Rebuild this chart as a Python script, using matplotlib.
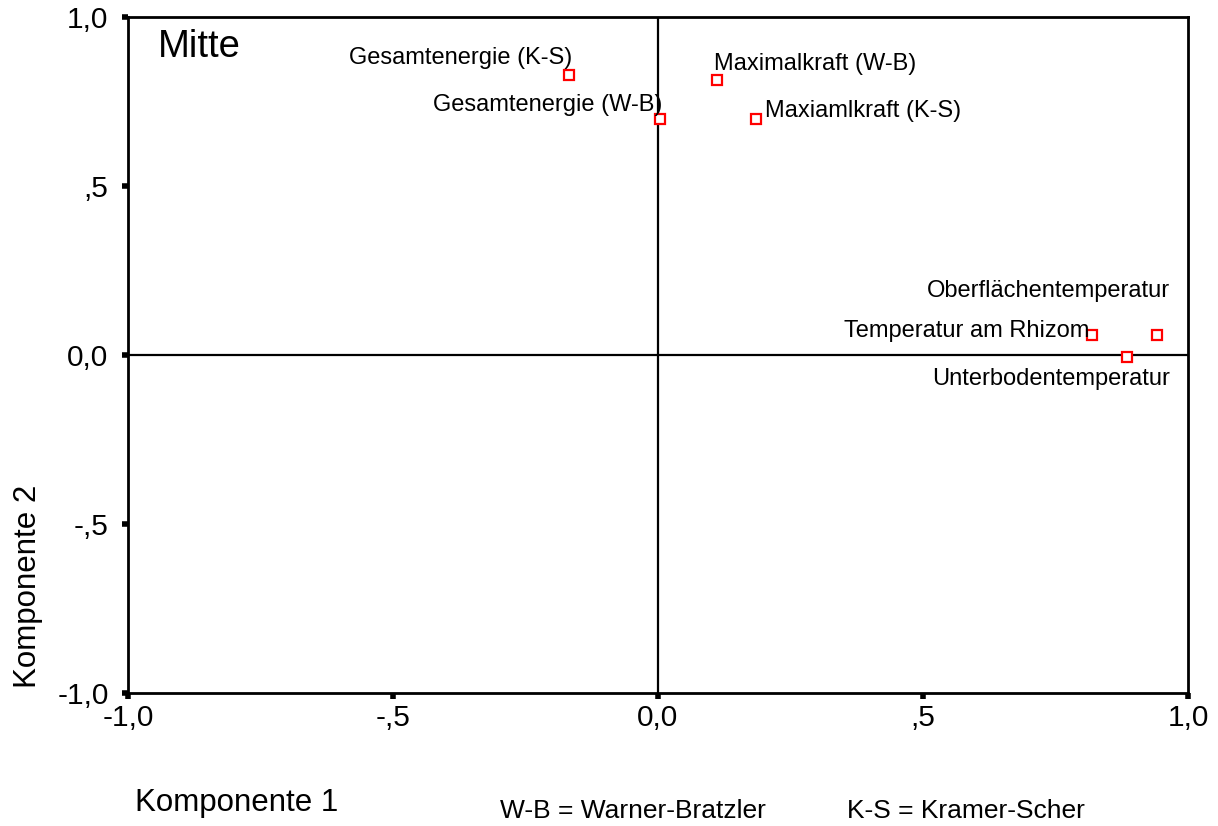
import matplotlib
matplotlib.use("Agg")
import matplotlib.pyplot as plt

plt.rcParams['font.family'] = ['Liberation Sans', 'DejaVu Sans']

# Data
labels = ["Gesamtenergie (K-S)", "Gesamtenergie (W-B)", "Maximalkraft (W-B)",
          "Maxiamlkraft (K-S)", "Oberflächentemperatur", "Temperatur am Rhizom",
          "Unterbodentemperatur"]
komp1 = [-0.168, 0.004, 0.111, 0.185, 0.942, 0.819, 0.885]
komp2 = [0.828, 0.698, 0.814, 0.698, 0.059, 0.059, -0.006]
tick_values = [-1.0, -0.5, 0.0, 0.5, 1.0]
tick_labels = ["-1,0", "-,5", "0,0", ",5", "1,0"]

# label placement (offsets in pixels, alignment) - styling only
label_style = [
    (3, 17, 'right'),
    (2, 14, 'right'),
    (-3, 16, 'left'),
    (9, 8, 'left'),
    (13, 44, 'right'),
    (-3, 4, 'right'),
    (43, -22, 'right'),
]

W, H = 1218, 826
fig = plt.figure(figsize=(W / 100, H / 100), dpi=100)
ax = fig.add_axes([128 / W, 1 - 693 / H, (1188 - 128) / W, (693 - 17) / H])

ax.set_xlim(-1, 1)
ax.set_ylim(-1, 1)
ax.axhline(0, color='black', lw=1.6, zorder=1)
ax.axvline(0, color='black', lw=1.6, zorder=1)

ax.plot(komp1, komp2, linestyle='none', marker='s', markersize=7,
        markerfacecolor='white', markeredgecolor='#ff0000', markeredgewidth=1.6, zorder=3)

for lab, x, y, (dx, dy, ha) in zip(labels, komp1, komp2, label_style):
    ax.annotate(lab, (x, y), xytext=(dx * 0.72, dy * 0.72), textcoords='offset points',
                ha=ha, va='center', fontsize=17, zorder=4)

for s in ax.spines.values():
    s.set_linewidth(2)

ax.set_xticks(tick_values)
ax.set_xticklabels(tick_labels)
ax.set_yticks(tick_values)
ax.set_yticklabels(tick_labels)
ax.tick_params(axis='both', direction='out', length=4, width=4, labelsize=21.5)
ax.tick_params(axis='y', pad=10)
ax.tick_params(axis='x', pad=4)

ax.text(0.028, 0.955, "Mitte", transform=ax.transAxes, fontsize=27.5, ha='left', va='center')

fig.text(135 / W, 1 - 803 / H, "Komponente 1", fontsize=22.5, ha='left', va='center')
fig.text(28 / W, 1 - 586 / H, "Komponente 2", fontsize=22.5, ha='center', va='center', rotation=90)
fig.text(500 / W, 1 - 811 / H, "W-B = Warner-Bratzler", fontsize=19, ha='left', va='center')
fig.text(847 / W, 1 - 811 / H, "K-S = Kramer-Scher", fontsize=19, ha='left', va='center')

fig.savefig("out.png", dpi=100)
